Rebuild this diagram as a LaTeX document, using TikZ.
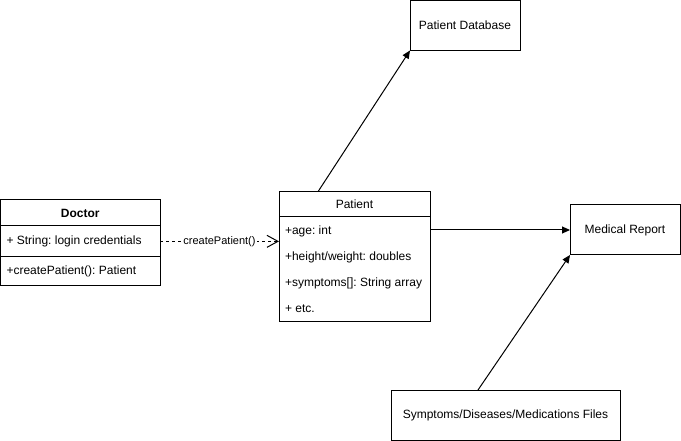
\documentclass[tikz,border=0pt]{standalone}
\usepackage{fontspec}
\setmainfont{Liberation Sans}
\usetikzlibrary{positioning, arrows.meta}

\begin{document}
\begin{tikzpicture}[
    x=1pt, y=-1pt,
    node distance=0pt,
    font=\fontsize{12}{14}\selectfont\frenchspacing,
    box/.style={
        rectangle,
        draw=black,
        line width=1pt,
        outer sep=0pt,
        align=center,
        minimum width=110pt,
        minimum height=50pt
    },
    classhead/.style={
        rectangle,
        draw=black,
        line width=1pt,
        outer sep=0pt,
        align=center,
        anchor=north west
    },
    member/.style={
        rectangle,
        draw=black,
        line width=1pt,
        outer sep=0pt,
        inner xsep=6pt,
        align=flush left
    },
    assoc/.style={
        line width=1pt,
        -{Triangle[length=8pt,width=7pt]}
    },
    depend/.style={
        line width=1pt,
        dash pattern=on 3pt off 3pt,
        -{Straight Barb[length=11pt,width=12pt]}
    }
]
\useasboundingbox (0,0) rectangle (681,441);

% Classes
\node[classhead, minimum width=159.5pt, minimum height=26pt] (doctor) at (0.5,200) {\bfseries Doctor};
\node[member, text width=147.5pt, minimum height=30.7pt, below=of doctor] (doctorattr) {+ String: login credentials};
\node[member, text width=147.5pt, minimum height=29.3pt, below=of doctorattr] (doctorop) {+createPatient(): Patient};

\node[classhead, minimum width=151pt, minimum height=25.3pt] (patient) at (279,191.7) {Patient};
\node[member, text width=139pt, minimum height=104.3pt, font=\fontsize{12}{26}\selectfont\frenchspacing, below=of patient] (patientattr) {+age: int\\+height/weight: doubles\\+symptoms[]: String array\\+ etc.};

% Boxes
\node[box] (database) at (465,25.5) {Patient Database};
\node[box] (report) at (625,230) {Medical Report};
\node[box, minimum width=229pt] (files) at (505.5,415) {Symptoms/Diseases/Medications Files};

% Arrows
\draw[assoc] ([xshift=39pt]patient.north west) -- (database.south west);
\draw[assoc] (report.west -| patientattr.east) -- (report.west);
\draw[assoc] ([xshift=87pt]files.north west) -- (report.south west);
\draw[depend] (doctorattr.east) -- node[fill=white, font=\fontsize{11}{13}\selectfont\frenchspacing, inner sep=1pt] {createPatient()} (doctorattr.east -| patient.west);
\end{tikzpicture}
\end{document}
